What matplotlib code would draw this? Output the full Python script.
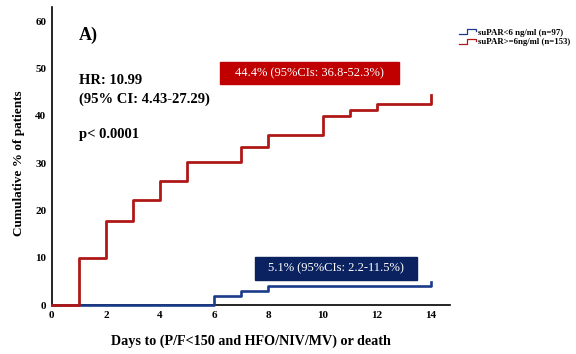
import matplotlib.pyplot as plt
from matplotlib.patches import Rectangle
from matplotlib.lines import Line2D
from matplotlib.legend_handler import HandlerBase

plt.rcParams['font.family'] = ['Liberation Serif', 'DejaVu Serif']

days = [0, 1, 2, 3, 4, 5, 6, 7, 8, 9, 10, 11, 12, 13, 14]
high_pct = [0, 9.9, 17.8, 22.3, 26.2, 30.2, 30.2, 33.5, 36.0, 36.0, 39.9, 41.2, 42.6, 42.6, 44.4]
low_pct = [0, 0, 0, 0, 0, 0, 2.0, 2.9, 4.1, 4.1, 4.1, 4.1, 4.1, 4.1, 4.8]

low_label = 'suPAR<6 ng/ml (n=97)'
high_label = 'suPAR>=6ng/ml (n=153)'
high_box = '44.4% (95%CIs: 36.8-52.3%)'
low_box = '5.1% (95%CIs: 2.2-11.5%)'

red = '#b01818'
blue = '#1a3a8a'


class StepHandler(HandlerBase):
    # little step-shaped legend key like the KM plot legend
    def create_artists(self, legend, orig, xd, yd, w, h, fontsize, trans):
        xs = [xd, xd + w * 0.45, xd + w * 0.45, xd + w, xd + w]
        ys = [yd + h * 0.15, yd + h * 0.15, yd + h * 0.85, yd + h * 0.85, yd + h * 0.55]
        return [Line2D(xs, ys, color=orig.get_color(), lw=0.9, transform=trans)]


fig = plt.figure(figsize=(5.76, 3.54), dpi=100)
ax = fig.add_axes([0.090, 0.138, 0.691, 0.842])

ax.step(days, low_pct, where='post', color=blue, lw=1.9, label=low_label, clip_on=False, zorder=3)
ax.step(days, high_pct, where='post', color=red, lw=2.0, label=high_label, clip_on=False, zorder=4)

ax.set_xlim(0, 14.7)
ax.set_ylim(0, 63)
ax.set_xticks(range(0, 15, 2))
ax.set_yticks(range(0, 61, 10))
ax.tick_params(length=0, labelsize=8, pad=4)
for t in ax.get_xticklabels() + ax.get_yticklabels():
    t.set_fontweight('bold')
ax.spines['top'].set_visible(False)
ax.spines['right'].set_visible(False)
ax.spines['left'].set_linewidth(1.2)
ax.spines['bottom'].set_linewidth(1.2)

ax.set_xlabel('Days to (P/F<150 and HFO/NIV/MV) or death', fontsize=10.2, fontweight='bold', labelpad=11)
ax.set_ylabel('Cumulative % of patients', fontsize=9.5, fontweight='bold')
ax.yaxis.set_label_coords(-0.068, 0.475)

ax.text(1.0, 57.0, 'A)', fontsize=13, fontweight='bold', va='center')
ax.text(1.0, 47.5, 'HR: 10.99', fontsize=10.5, fontweight='bold', va='center')
ax.text(1.0, 43.5, '(95% CI: 4.43-27.29)', fontsize=10.5, fontweight='bold', va='center')
ax.text(1.0, 36.0, 'p< 0.0001', fontsize=10.5, fontweight='bold', va='center')

# coloured value boxes
ax.add_patch(Rectangle((6.22, 46.7), 6.6, 4.7, color='#c00000', zorder=5))
ax.text(9.52, 49.05, high_box, color='white', fontsize=9, ha='center', va='center', zorder=6)
ax.add_patch(Rectangle((7.52, 5.3), 5.95, 4.9, color='#0b2260', zorder=5))
ax.text(10.5, 7.75, low_box, color='white', fontsize=9, ha='center', va='center', zorder=6)

handles, labels = ax.get_legend_handles_labels()
leg = ax.legend(handles, labels, loc='upper left', bbox_to_anchor=(1.015, 0.94), frameon=False,
                prop={'size': 6.3, 'weight': 'bold'}, handlelength=1.9,
                handletextpad=0.25, labelspacing=0.2, borderaxespad=0,
                handler_map={Line2D: StepHandler()})

fig.savefig('out.png', dpi=100)
